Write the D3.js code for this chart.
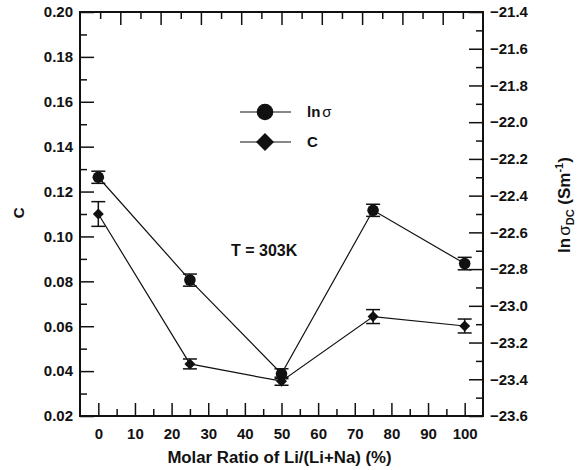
<!DOCTYPE html>
<html>
<head>
<meta charset="utf-8">
<script src="https://cdn.jsdelivr.net/npm/d3@7"></script>
<style>
  html, body { margin: 0; padding: 0; background: #fff; }
  svg { display: block; }
  text { font-family: "Liberation Sans", Arial, sans-serif; font-weight: bold; fill: #111; }
</style>
</head>
<body>
<svg id="chart" width="583" height="470"></svg>
<script>
// ---- data ----
const ratio = [0, 25, 50, 75, 100];
const lnSigma = [-22.30, -22.86, -23.37, -22.48, -22.77];
const lnSigmaErr = [0.033, 0.033, 0.027, 0.033, 0.034];
const cValues = [0.110, 0.0432, 0.0355, 0.0643, 0.0601];
const cErr = [0.0055, 0.0022, 0.0018, 0.0031, 0.0031];
const xTicks = [0, 10, 20, 30, 40, 50, 60, 70, 80, 90, 100];
const leftTicks = [0.02, 0.04, 0.06, 0.08, 0.10, 0.12, 0.14, 0.16, 0.18, 0.20];
const rightTicks = [-23.6, -23.4, -23.2, -23.0, -22.8, -22.6, -22.4, -22.2, -22.0, -21.8, -21.6, -21.4];

const svg = d3.select("#chart");
const L = 80, R = 483, T = 12, B = 416;
const x = d3.scaleLinear().domain([-5, 105]).range([L, R]);
const yL = d3.scaleLinear().domain([0.02, 0.20]).range([B, T]);
const yR = d3.scaleLinear().domain([-23.6, -21.4]).range([B, T]);
const xTop = d3.scaleLinear().domain([0, 20]).range([L, R]);

const FS = 15;
function styleAxis(g) {
  g.select(".domain").remove();
  g.selectAll(".tick line").attr("stroke", "#111").attr("stroke-width", 1.5);
  g.selectAll(".tick text").attr("font-size", FS).attr("font-family", "Liberation Sans, Arial, sans-serif").attr("font-weight", "bold").attr("fill", "#111");
}

// bottom axis
svg.append("g").attr("transform", `translate(0,${B})`)
  .call(d3.axisBottom(x).tickValues(xTicks).tickSize(-13).tickPadding(12).tickFormat(d3.format("d")))
  .call(styleAxis);
svg.append("g").attr("transform", `translate(0,${B})`)
  .call(d3.axisBottom(x).tickValues(d3.range(5, 100, 10)).tickSize(-7).tickFormat(""))
  .call(styleAxis);
// top axis (unlabelled)
svg.append("g").attr("transform", `translate(0,${T})`)
  .call(d3.axisTop(xTop).tickValues(d3.range(2, 20, 2)).tickSize(-13).tickFormat(""))
  .call(styleAxis);
svg.append("g").attr("transform", `translate(0,${T})`)
  .call(d3.axisTop(xTop).tickValues(d3.range(1, 20, 2)).tickSize(-7).tickFormat(""))
  .call(styleAxis);
// left axis
svg.append("g").attr("transform", `translate(${L},0)`)
  .call(d3.axisLeft(yL).tickValues(leftTicks).tickSize(-14).tickPadding(7).tickFormat(d3.format(".2f")))
  .call(styleAxis);
svg.append("g").attr("transform", `translate(${L},0)`)
  .call(d3.axisLeft(yL).tickValues(d3.range(0.03, 0.20, 0.02)).tickSize(-7).tickFormat(""))
  .call(styleAxis);
// right axis
svg.append("g").attr("transform", `translate(${R},0)`)
  .call(d3.axisRight(yR).tickValues(rightTicks).tickSize(-14).tickPadding(7).tickFormat(d3.format(".1f")))
  .call(styleAxis);
svg.append("g").attr("transform", `translate(${R},0)`)
  .call(d3.axisRight(yR).tickValues(d3.range(-23.5, -21.45, 0.2)).tickSize(-7).tickFormat(""))
  .call(styleAxis);

// frame
svg.append("path").attr("d", `M${L},${T}H${R}V${B}H${L}Z`)
  .attr("fill", "none").attr("stroke", "#111").attr("stroke-width", 2);

// series lines
const lineR = d3.line().x((d, i) => x(ratio[i])).y(d => yR(d));
svg.append("path").attr("d", lineR(lnSigma)).attr("fill", "none").attr("stroke", "#111").attr("stroke-width", 1.2);
const lineL = d3.line().x((d, i) => x(ratio[i])).y(d => yL(d));
svg.append("path").attr("d", lineL(cValues)).attr("fill", "none").attr("stroke", "#111").attr("stroke-width", 1.2);

function errorBars(vals, errs, scale) {
  const g = svg.append("g").attr("stroke", "#111").attr("stroke-width", 1.5).attr("fill", "none");
  vals.forEach((v, i) => {
    const cx = x(ratio[i]);
    const y1 = scale(v + errs[i]), y2 = scale(v - errs[i]);
    g.append("line").attr("x1", cx).attr("x2", cx).attr("y1", y1).attr("y2", y2);
    g.append("line").attr("x1", cx - 7).attr("x2", cx + 7).attr("y1", y1).attr("y2", y1);
    g.append("line").attr("x1", cx - 7).attr("x2", cx + 7).attr("y1", y2).attr("y2", y2);
  });
}
errorBars(lnSigma, lnSigmaErr, yR);
errorBars(cValues, cErr, yL);

const diamond = s => `M0,${-s}L${s},0L0,${s}L${-s},0Z`;
svg.append("g").selectAll("circle").data(lnSigma).join("circle")
  .attr("cx", (d, i) => x(ratio[i])).attr("cy", d => yR(d)).attr("r", 5.8).attr("fill", "#111");
svg.append("g").selectAll("path").data(cValues).join("path")
  .attr("transform", (d, i) => `translate(${x(ratio[i])},${yL(d)})`)
  .attr("d", diamond(5.5)).attr("fill", "#111");

// legend
const lg = svg.append("g");
lg.append("line").attr("x1", 240).attr("x2", 291).attr("y1", 112).attr("y2", 112).attr("stroke", "#111").attr("stroke-width", 1.2);
lg.append("circle").attr("cx", 265).attr("cy", 112).attr("r", 8.3).attr("fill", "#111");
const t1 = lg.append("text").attr("x", 307).attr("y", 117).attr("font-size", FS);
t1.append("tspan").text("ln");
t1.append("tspan").attr("font-weight", "normal").attr("dx", 2).text("σ");
lg.append("line").attr("x1", 240).attr("x2", 291).attr("y1", 142).attr("y2", 142).attr("stroke", "#111").attr("stroke-width", 1.2);
lg.append("path").attr("transform", "translate(265,142)").attr("d", diamond(9)).attr("fill", "#111");
lg.append("text").attr("x", 307).attr("y", 147).attr("font-size", FS).text("C");

// annotation
svg.append("text").attr("x", 231).attr("y", 256).attr("font-size", 16).text("T = 303K");

// axis titles
svg.append("text").attr("x", 279.5).attr("y", 463).attr("text-anchor", "middle").attr("font-size", 16.8)
  .text("Molar Ratio of Li/(Li+Na) (%)");
svg.append("text").attr("transform", "translate(24,213) rotate(-90)").attr("text-anchor", "middle").attr("font-size", 15.5).text("C");
const rt = svg.append("text").attr("transform", "translate(570,205) rotate(-90)").attr("text-anchor", "middle").attr("font-size", 17);
rt.append("tspan").text("ln");
rt.append("tspan").attr("font-weight", "normal").attr("dx", 2).text("σ");
rt.append("tspan").attr("font-size", 11).attr("dy", 4).text("DC");
rt.append("tspan").attr("dy", -4).text(" (Sm");
rt.append("tspan").attr("font-size", 11).attr("dy", -7).text("-1");
rt.append("tspan").attr("dy", 7).text(")");
</script>
</body>
</html>
